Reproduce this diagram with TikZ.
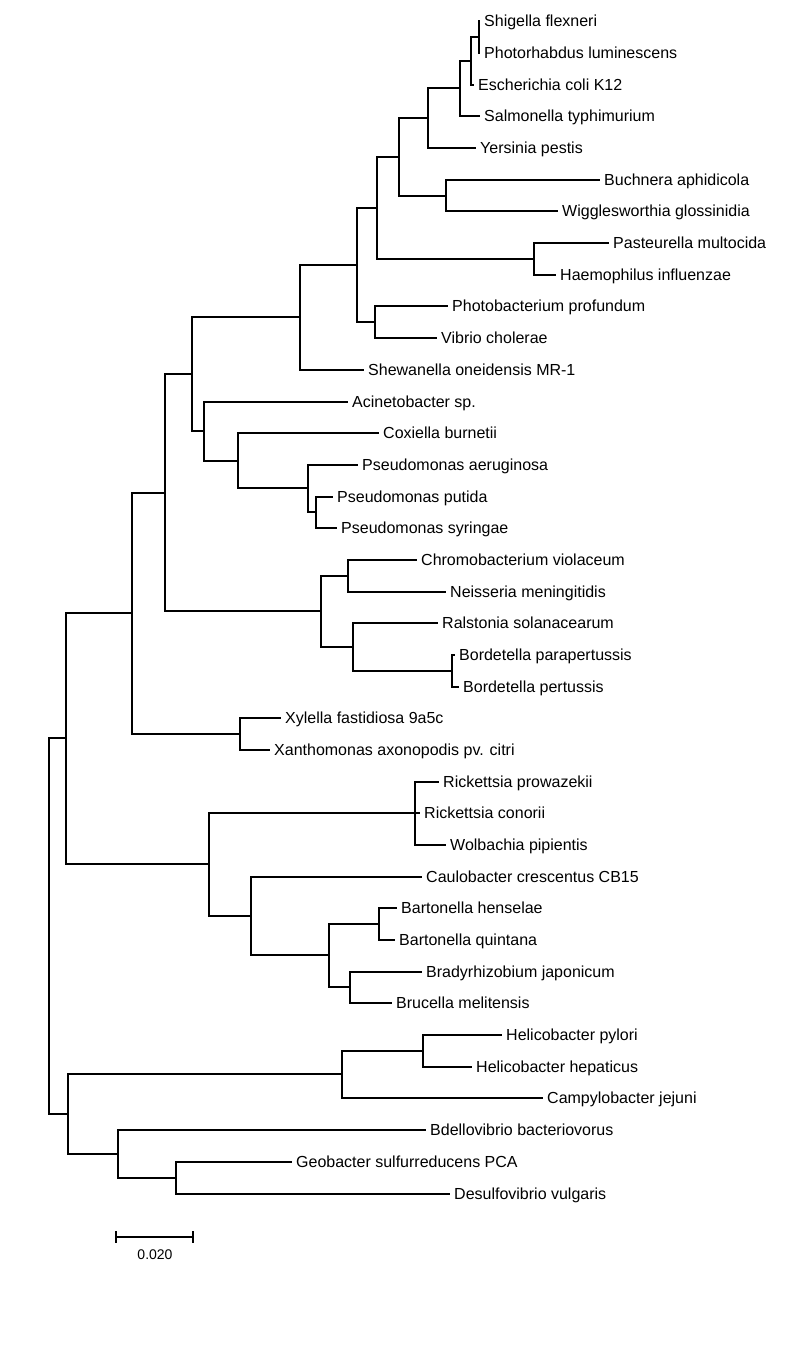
\documentclass[tikz,border=0pt]{standalone}
\usepackage{fontspec}
\setmainfont{Liberation Sans}
\begin{document}
\begin{tikzpicture}[x=1pt,y=-1pt,
  taxon/.style={anchor=west,inner xsep=4pt,inner ysep=0pt,text height=11.5pt,text depth=0pt,font=\fontsize{16pt}{18pt}\selectfont},
  branch/.style={line width=1.8pt},
  heavy/.style={line width=2.6pt}]
\useasboundingbox (0,0) rectangle (786,1346);
% taxa
\node[taxon] (shig) at (480,21) {Shigella flexneri};
\node[taxon] (photo) at (480,53) {Photorhabdus luminescens};
\node[taxon] (ecoli) at (474,85) {Escherichia coli K12};
\node[taxon] (salm) at (480,116) {Salmonella typhimurium};
\node[taxon] (yers) at (476,148) {Yersinia pestis};
\node[taxon] (buch) at (600,180) {Buchnera aphidicola};
\node[taxon] (wigg) at (558,211) {Wigglesworthia glossinidia};
\node[taxon] (past) at (609,243) {Pasteurella multocida};
\node[taxon] (haem) at (556,275) {Haemophilus influenzae};
\node[taxon] (phob) at (448,306) {Photobacterium profundum};
\node[taxon] (vibr) at (437,338) {Vibrio cholerae};
\node[taxon] (shew) at (364,370) {Shewanella oneidensis MR-1};
\node[taxon] (acin) at (348,402) {Acinetobacter sp.};
\node[taxon] (coxi) at (379,433) {Coxiella burnetii};
\node[taxon] (paer) at (358,465) {Pseudomonas aeruginosa};
\node[taxon] (pput) at (333,497) {Pseudomonas putida};
\node[taxon] (psyr) at (337,528) {Pseudomonas syringae};
\node[taxon] (chro) at (417,560) {Chromobacterium violaceum};
\node[taxon] (neis) at (446,592) {Neisseria meningitidis};
\node[taxon] (rals) at (438,623) {Ralstonia solanacearum};
\node[taxon] (bpar) at (455,655) {Bordetella parapertussis};
\node[taxon] (bper) at (459,687) {Bordetella pertussis};
\node[taxon] (xyle) at (281,718) {Xylella fastidiosa 9a5c};
\node[taxon] (xant) at (270,750) {Xanthomonas axonopodis pv. citri};
\node[taxon] (rpro) at (439,782) {Rickettsia prowazekii};
\node[taxon] (rcon) at (420,813) {Rickettsia conorii};
\node[taxon] (wolb) at (446,845) {Wolbachia pipientis};
\node[taxon] (caul) at (422,877) {Caulobacter crescentus CB15};
\node[taxon] (bhen) at (397,908) {Bartonella henselae};
\node[taxon] (bqui) at (395,940) {Bartonella quintana};
\node[taxon] (brad) at (422,972) {Bradyrhizobium japonicum};
\node[taxon] (bruc) at (392,1003) {Brucella melitensis};
\node[taxon] (hpyl) at (502,1035) {Helicobacter pylori};
\node[taxon] (hhep) at (472,1067) {Helicobacter hepaticus};
\node[taxon] (camp) at (543,1098) {Campylobacter jejuni};
\node[taxon] (bdel) at (426,1130) {Bdellovibrio bacteriovorus};
\node[taxon] (geob) at (292,1162) {Geobacter sulfurreducens PCA};
\node[taxon] (desu) at (450,1194) {Desulfovibrio vulgaris};
% internal nodes
\coordinate (n1) at (479,37);
\coordinate (n2) at (471,61);
\coordinate (n3) at (460,88);
\coordinate (n4) at (428,118);
\coordinate (n5) at (446,196);
\coordinate (n6) at (399,157);
\coordinate (n7) at (534,259);
\coordinate (n8) at (377,208);
\coordinate (n9) at (375,322);
\coordinate (n10) at (357,265);
\coordinate (n11) at (300,317);
\coordinate (n12) at (316,512);
\coordinate (n13) at (308,488);
\coordinate (n14) at (238,461);
\coordinate (n15) at (204,431);
\coordinate (n16) at (192,374);
\coordinate (n17) at (348,576);
\coordinate (n18) at (452,671);
\coordinate (n19) at (353,647);
\coordinate (n20) at (321,611);
\coordinate (n21) at (165,493);
\coordinate (n22) at (240,734);
\coordinate (n23) at (132,613);
\coordinate (n24) at (415,813);
\coordinate (n25) at (379,924);
\coordinate (n26) at (350,987);
\coordinate (n27) at (329,955);
\coordinate (n28) at (251,916);
\coordinate (n29) at (209,864);
\coordinate (n30) at (66,738);
\coordinate (n31) at (423,1051);
\coordinate (n32) at (342,1074);
\coordinate (n33) at (176,1178);
\coordinate (n34) at (118,1154);
\coordinate (n35) at (68,1114);
\coordinate (root) at (49,926);
% branches
\draw[branch] (n1) |- (shig.west);
\draw[branch] (n1) |- (photo.west);
\draw[branch] (n2) |- (n1);
\draw[branch] (n2) |- (ecoli.west);
\draw[branch] (n3) |- (n2);
\draw[branch] (n3) |- (salm.west);
\draw[branch] (n4) |- (n3);
\draw[branch] (n4) |- (yers.west);
\draw[branch] (n5) |- (buch.west);
\draw[branch] (n5) |- (wigg.west);
\draw[branch] (n6) |- (n4);
\draw[branch] (n6) |- (n5);
\draw[branch] (n7) |- (past.west);
\draw[branch] (n7) |- (haem.west);
\draw[branch] (n8) |- (n6);
\draw[branch] (n8) |- (n7);
\draw[branch] (n9) |- (phob.west);
\draw[branch] (n9) |- (vibr.west);
\draw[heavy] (n10) |- (n8);
\draw[heavy] (n10) |- (n9);
\draw[branch] (n11) |- (n10);
\draw[heavy] (n11) |- (shew.west);
\draw[branch] (n12) |- (pput.west);
\draw[branch] (n12) |- (psyr.west);
\draw[branch] (n13) |- (paer.west);
\draw[branch] (n13) |- (n12);
\draw[branch] (n14) |- (coxi.west);
\draw[branch] (n14) |- (n13);
\draw[branch] (n15) |- (acin.west);
\draw[branch] (n15) |- (n14);
\draw[heavy] (n16) |- (n11);
\draw[heavy] (n16) |- (n15);
\draw[branch] (n17) |- (chro.west);
\draw[branch] (n17) |- (neis.west);
\draw[branch] (n18) |- (bpar.west);
\draw[branch] (n18) |- (bper.west);
\draw[branch] (n19) |- (rals.west);
\draw[branch] (n19) |- (n18);
\draw[branch] (n20) |- (n17);
\draw[branch] (n20) |- (n19);
\draw[heavy] (n21) |- (n16);
\draw[heavy] (n21) |- (n20);
\draw[branch] (n22) |- (xyle.west);
\draw[branch] (n22) |- (xant.west);
\draw[branch] (n23) |- (n21);
\draw[branch] (n23) |- (n22);
\draw[branch] (n24) |- (rpro.west);
\draw[branch] (n24) |- (rcon.west);
\draw[branch] (n24) |- (wolb.west);
\draw[branch] (n25) |- (bhen.west);
\draw[branch] (n25) |- (bqui.west);
\draw[branch] (n26) |- (brad.west);
\draw[branch] (n26) |- (bruc.west);
\draw[heavy] (n27) |- (n25);
\draw[heavy] (n27) |- (n26);
\draw[branch] (n28) |- (caul.west);
\draw[branch] (n28) |- (n27);
\draw[branch] (n29) |- (n24);
\draw[branch] (n29) |- (n28);
\draw[branch] (n30) |- (n23);
\draw[branch] (n30) |- (n29);
\draw[branch] (n31) |- (hpyl.west);
\draw[branch] (n31) |- (hhep.west);
\draw[branch] (n32) |- (n31);
\draw[branch] (n32) |- (camp.west);
\draw[branch] (n33) |- (geob.west);
\draw[branch] (n33) |- (desu.west);
\draw[branch] (n34) |- (bdel.west);
\draw[branch] (n34) |- (n33);
\draw[branch] (n35) |- (n32);
\draw[branch] (n35) |- (n34);
\draw[branch] (root) |- (n30);
\draw[branch] (root) |- (n35);
% scale bar
\coordinate (bar0) at (116,1237);
\coordinate (bar1) at (193,1237);
\draw[branch] (bar0) -- (bar1);
\draw[branch] ([yshift=6pt]bar0) -- ([yshift=-6pt]bar0);
\draw[branch] ([yshift=6pt]bar1) -- ([yshift=-6pt]bar1);
\node[font=\fontsize{14pt}{16pt}\selectfont] (barlab) at (155,1255) {0.020};
\end{tikzpicture}
\end{document}
